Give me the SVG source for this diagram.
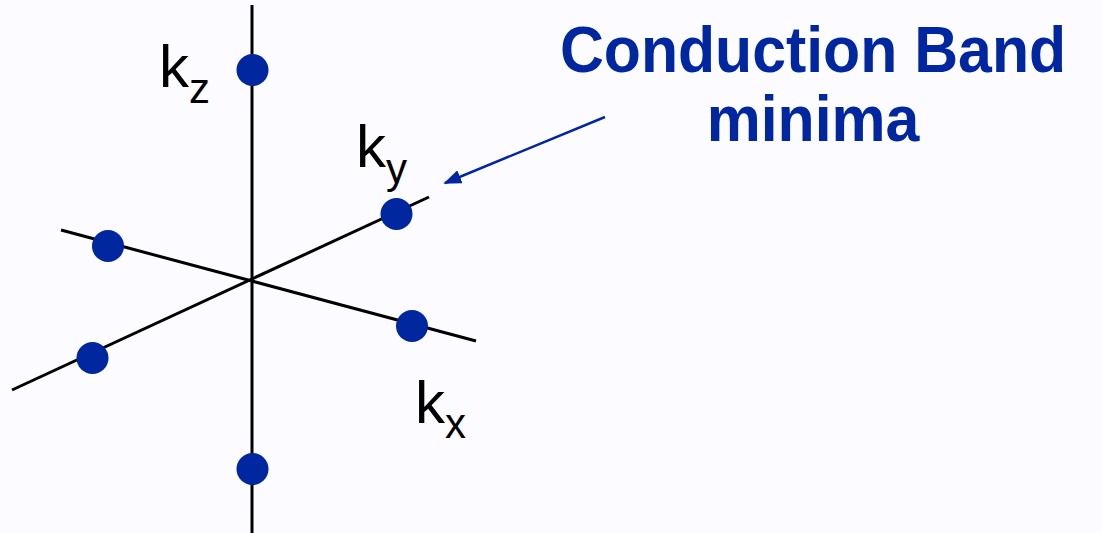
<svg xmlns="http://www.w3.org/2000/svg" width="1102" height="533" viewBox="0 0 1102 533">
  <style>
    .axis { stroke: #000; stroke-width: 3; fill: none; }
    .dot { fill: #0027a0; }
    .lbl { font-family: "Liberation Sans", Arial, sans-serif; font-size: 60px; fill: #000; }
    .sub { font-size: 42px; }
    .title { font-family: "Liberation Sans", Arial, sans-serif; font-weight: bold; font-size: 65px; fill: #0027a0; text-anchor: middle; }
  </style>
  <defs>
    <marker id="ah" viewBox="0 0 10 10" refX="9" refY="5" markerWidth="18" markerHeight="14" markerUnits="userSpaceOnUse" orient="auto" preserveAspectRatio="none">
      <path d="M0,0 L10,5 L0,10 Z" fill="#0027a0"/>
    </marker>
  </defs>
  <rect width="1102" height="533" fill="#fcfbff"/>
  <g id="axes">
    <line class="axis" x1="252" y1="5" x2="252" y2="533"/>
    <line class="axis" x1="61" y1="230" x2="476" y2="341"/>
    <line class="axis" x1="12" y1="390" x2="429" y2="197"/>
  </g>
  <g id="minima">
    <circle class="dot" cx="252.5" cy="70" r="16"/>
    <circle class="dot" cx="396.5" cy="214" r="16"/>
    <circle class="dot" cx="412" cy="326" r="16"/>
    <circle class="dot" cx="108" cy="246" r="16"/>
    <circle class="dot" cx="92.5" cy="358" r="16"/>
    <circle class="dot" cx="252.5" cy="469" r="16"/>
  </g>
  <g id="label-kz"><text class="lbl" x="159" y="87">k<tspan class="sub" dy="16">z</tspan></text></g>
  <g id="label-ky"><text class="lbl" x="356" y="167">k<tspan class="sub" dy="16">y</tspan></text></g>
  <g id="label-kx"><text class="lbl" x="415" y="423">k<tspan class="sub" dy="15">x</tspan></text></g>
  <g id="title">
    <g transform="translate(813,0) scale(0.935,1)">
      <text class="title" x="0" y="72">Conduction Band</text>
      <text class="title" x="0" y="141">minima</text>
    </g>
  </g>
  <g id="connectors">
    <line x1="605" y1="117" x2="445" y2="183" stroke="#0027a0" stroke-width="2.5" marker-end="url(#ah)"/>
  </g>
</svg>
